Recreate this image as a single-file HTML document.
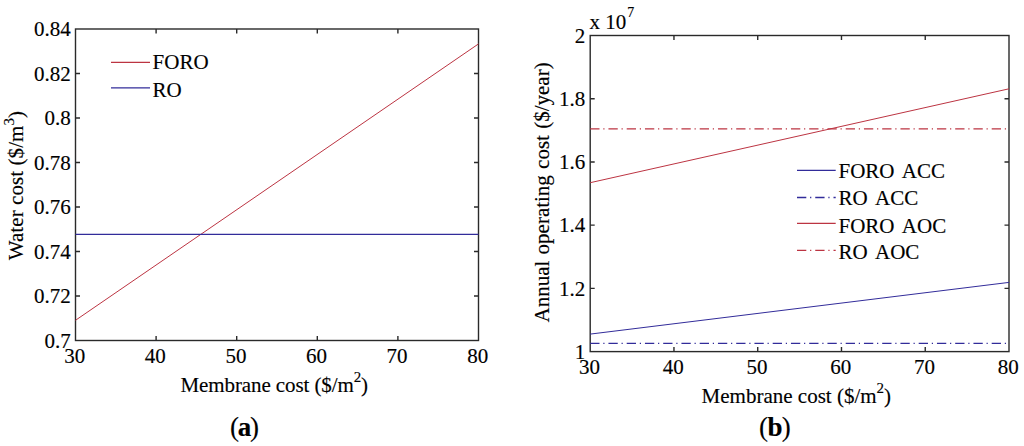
<!DOCTYPE html>
<html><head><meta charset="utf-8"><style>
html,body{margin:0;padding:0;background:#fff;width:1024px;height:446px;overflow:hidden}
svg{display:block}
svg{font-family:"Liberation Serif",serif;font-size:21px;fill:#000}
text{stroke:#000;stroke-width:0.15px}
</style></head><body>
<svg width="1024" height="446" viewBox="0 0 1024 446">
<rect x="75.5" y="29.0" width="403.00" height="311.50" fill="none" stroke="#2a2a2a" stroke-width="1.4"/>
<path d="M156.10 340.5v-4.5M156.10 29.0v4.5M236.70 340.5v-4.5M236.70 29.0v4.5M317.30 340.5v-4.5M317.30 29.0v4.5M397.90 340.5v-4.5M397.90 29.0v4.5M75.5 296.00h4.5M478.5 296.00h-4.5M75.5 251.50h4.5M478.5 251.50h-4.5M75.5 207.00h4.5M478.5 207.00h-4.5M75.5 162.50h4.5M478.5 162.50h-4.5M75.5 118.00h4.5M478.5 118.00h-4.5M75.5 73.50h4.5M478.5 73.50h-4.5" stroke="#2a2a2a" stroke-width="1.4" fill="none"/>
<text x="74.70" y="362.7" text-anchor="middle">30</text>
<text x="155.30" y="362.7" text-anchor="middle">40</text>
<text x="235.90" y="362.7" text-anchor="middle">50</text>
<text x="316.50" y="362.7" text-anchor="middle">60</text>
<text x="397.10" y="362.7" text-anchor="middle">70</text>
<text x="477.70" y="362.7" text-anchor="middle">80</text>
<text x="70.8" y="347.70" text-anchor="end">0.7</text>
<text x="70.8" y="303.20" text-anchor="end">0.72</text>
<text x="70.8" y="258.70" text-anchor="end">0.74</text>
<text x="70.8" y="214.20" text-anchor="end">0.76</text>
<text x="70.8" y="169.70" text-anchor="end">0.78</text>
<text x="70.8" y="125.20" text-anchor="end">0.8</text>
<text x="70.8" y="80.70" text-anchor="end">0.82</text>
<text x="70.8" y="36.20" text-anchor="end">0.84</text>
<line x1="75.5" y1="320.3" x2="478.5" y2="43.9" stroke="#bc3442" stroke-width="1.0"/>
<line x1="75.5" y1="234.4" x2="478.5" y2="234.4" stroke="#322c9a" stroke-width="1.3"/>
<line x1="111" y1="62.4" x2="150" y2="62.4" stroke="#bc3442" stroke-width="1.3"/>
<line x1="111" y1="87.9" x2="150" y2="87.9" stroke="#322c9a" stroke-width="1.3"/>
<text x="152.6" y="69.4">FORO</text>
<text x="152.6" y="96.8">RO</text>
<rect x="590.2" y="35.5" width="418.80" height="316.10" fill="none" stroke="#2a2a2a" stroke-width="1.4"/>
<path d="M673.96 351.6v-4.5M673.96 35.5v4.5M757.72 351.6v-4.5M757.72 35.5v4.5M841.48 351.6v-4.5M841.48 35.5v4.5M925.24 351.6v-4.5M925.24 35.5v4.5M590.2 288.38h4.5M1009.0 288.38h-4.5M590.2 225.16h4.5M1009.0 225.16h-4.5M590.2 161.94h4.5M1009.0 161.94h-4.5M590.2 98.72h4.5M1009.0 98.72h-4.5" stroke="#2a2a2a" stroke-width="1.4" fill="none"/>
<text x="589.40" y="373.5" text-anchor="middle">30</text>
<text x="673.16" y="373.5" text-anchor="middle">40</text>
<text x="756.92" y="373.5" text-anchor="middle">50</text>
<text x="840.68" y="373.5" text-anchor="middle">60</text>
<text x="924.44" y="373.5" text-anchor="middle">70</text>
<text x="1008.20" y="373.5" text-anchor="middle">80</text>
<text x="585.2" y="358.80" text-anchor="end">1</text>
<text x="585.2" y="295.58" text-anchor="end">1.2</text>
<text x="585.2" y="232.36" text-anchor="end">1.4</text>
<text x="585.2" y="169.14" text-anchor="end">1.6</text>
<text x="585.2" y="105.92" text-anchor="end">1.8</text>
<text x="585.2" y="42.70" text-anchor="end">2</text>
<line x1="590.2" y1="334.1" x2="1009.0" y2="282.4" stroke="#322c9a" stroke-width="1.0"/>
<line x1="590.2" y1="343.4" x2="1009.0" y2="343.4" stroke="#322c9a" stroke-width="1.3" stroke-dasharray="9.3 3.8 1.2 3.95"/>
<line x1="590.2" y1="182.7" x2="1009.0" y2="88.8" stroke="#bc3442" stroke-width="1.0"/>
<line x1="590.2" y1="128.8" x2="1009.0" y2="128.8" stroke="#bc3442" stroke-width="1.3" stroke-dasharray="9.3 3.8 1.2 3.95"/>
<line x1="797" y1="170.3" x2="835.7" y2="170.3" stroke="#322c9a" stroke-width="1.3"/>
<text x="838.5" y="177.7" word-spacing="3.2">FORO ACC</text>
<line x1="797" y1="197.5" x2="835.7" y2="197.5" stroke="#322c9a" stroke-width="1.3" stroke-dasharray="9.3 3.8 1.2 3.95"/>
<text x="838.5" y="204.5" word-spacing="3.2">RO ACC</text>
<line x1="797" y1="223.4" x2="835.7" y2="223.4" stroke="#bc3442" stroke-width="1.3"/>
<text x="838.5" y="232.6" word-spacing="3.2">FORO AOC</text>
<line x1="797" y1="250.3" x2="835.7" y2="250.3" stroke="#bc3442" stroke-width="1.3" stroke-dasharray="9.3 3.8 1.2 3.95"/>
<text x="838.5" y="259.4" word-spacing="3.2">RO AOC</text>
<text x="589.5" y="29">x 10<tspan font-size="14" dy="-12.5" dx="1">7</tspan></text>
<text x="180.5" y="391.5" letter-spacing="-0.1">Membrane cost ($/m<tspan font-size="15" dy="-9.5">2</tspan><tspan dy="9.5">)</tspan></text>
<text x="701.6" y="402.9">Membrane cost ($/m<tspan font-size="15" dy="-9.5">2</tspan><tspan dy="9.5">)</tspan></text>
<text transform="translate(23.2 260.3) rotate(-90)" letter-spacing="0.08">Water cost ($/m<tspan font-size="15" dy="-8.8">3</tspan><tspan dy="8.8">)</tspan></text>
<text transform="translate(548.5 322.5) rotate(-90)" word-spacing="1">Annual operating cost ($/year)</text>
<text x="230" y="436" font-size="27" letter-spacing="-1.3">(<tspan font-weight="bold">a</tspan>)</text>
<text x="759" y="436.3" font-size="27" letter-spacing="-0.6">(<tspan font-weight="bold">b</tspan>)</text>
</svg>
</body></html>
